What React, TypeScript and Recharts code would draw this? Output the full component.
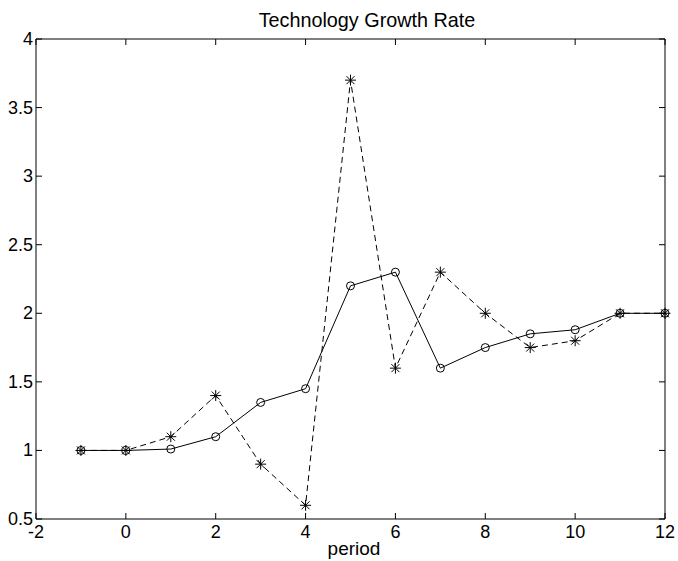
import { LineChart, Line, XAxis, YAxis } from "recharts";

const periods = [-1, 0, 1, 2, 3, 4, 5, 6, 7, 8, 9, 10, 11, 12];
const solidRate = [1, 1, 1.01, 1.1, 1.35, 1.45, 2.2, 2.3, 1.6, 1.75, 1.85, 1.88, 2, 2];
const dashedRate = [1, 1, 1.1, 1.4, 0.9, 0.6, 3.7, 1.6, 2.3, 2.0, 1.75, 1.8, 2, 2];
const xTicks = [-2, 0, 2, 4, 6, 8, 10, 12];
const yTicks = [0.5, 1, 1.5, 2, 2.5, 3, 3.5, 4];

const data = periods.map((p, i) => ({ period: p, solid: solidRate[i], dashed: dashedRate[i] }));

const FONT = '"Liberation Sans", Arial, Helvetica, sans-serif';
const TICK = 6;

function BottomTick({ x, y, payload }: any) {
  return (
    <g>
      <line x1={x} y1={y} x2={x} y2={y - TICK} stroke="#000" strokeWidth={1} />
      <text x={x} y={y + 19} textAnchor="middle" fontSize={18} fontFamily={FONT} fill="#000">
        {payload.value}
      </text>
    </g>
  );
}

function TopTick({ x, y }: any) {
  return <line x1={x} y1={y} x2={x} y2={y + TICK} stroke="#000" strokeWidth={1} />;
}

function LeftTick({ x, y, payload }: any) {
  return (
    <g>
      <line x1={x} y1={y} x2={x + TICK} y2={y} stroke="#000" strokeWidth={1} />
      <text x={x - 3} y={y + 6} textAnchor="end" fontSize={18} fontFamily={FONT} fill="#000">
        {payload.value}
      </text>
    </g>
  );
}

function RightTick({ x, y }: any) {
  return <line x1={x} y1={y} x2={x - TICK} y2={y} stroke="#000" strokeWidth={1} />;
}

function Star({ cx, cy, index }: any) {
  const r = 5.5;
  const d = 4;
  return (
    <g key={`star-${index}`} stroke="#000" strokeWidth={1}>
      <line x1={cx - r} y1={cy} x2={cx + r} y2={cy} />
      <line x1={cx} y1={cy - r} x2={cx} y2={cy + r} />
      <line x1={cx - d} y1={cy - d} x2={cx + d} y2={cy + d} />
      <line x1={cx - d} y1={cy + d} x2={cx + d} y2={cy - d} />
    </g>
  );
}

export default function App() {
  return (
    <div style={{ position: "absolute", left: 0, top: 0, width: 678, height: 561, background: "#fff" }}>
      <LineChart width={678} height={561} data={data} margin={{ top: 38, right: 12, bottom: 0, left: 0 }}>
        <XAxis
          xAxisId="b"
          dataKey="period"
          type="number"
          domain={[-2, 12]}
          ticks={xTicks}
          interval={0}
          height={42}
          tickSize={0}
          tickMargin={0}
          tickLine={false}
          axisLine={{ stroke: "#000" }}
          tick={<BottomTick />}
        />
        <XAxis
          xAxisId="t"
          orientation="top"
          dataKey="period"
          type="number"
          domain={[-2, 12]}
          ticks={xTicks}
          interval={0}
          height={1}
          tickSize={0}
          tickMargin={0}
          tickLine={false}
          axisLine={{ stroke: "#000" }}
          tick={<TopTick />}
        />
        <YAxis
          yAxisId="l"
          type="number"
          domain={[0.5, 4]}
          ticks={yTicks}
          interval={0}
          width={36}
          tickSize={0}
          tickMargin={0}
          tickLine={false}
          axisLine={{ stroke: "#000" }}
          tick={<LeftTick />}
        />
        <YAxis
          yAxisId="r"
          orientation="right"
          type="number"
          domain={[0.5, 4]}
          ticks={yTicks}
          interval={0}
          width={1}
          tickSize={0}
          tickMargin={0}
          tickLine={false}
          axisLine={{ stroke: "#000" }}
          tick={<RightTick />}
        />
        {/* invisible series so the top and right frame axes get drawn */}
        <Line
          xAxisId="t"
          yAxisId="r"
          type="linear"
          dataKey="solid"
          stroke="none"
          dot={false}
          activeDot={false}
          isAnimationActive={false}
        />
        <Line
          xAxisId="b"
          yAxisId="l"
          type="linear"
          dataKey="dashed"
          stroke="#000"
          strokeWidth={1}
          strokeDasharray="6 4"
          dot={(p: any) => <Star {...p} />}
          isAnimationActive={false}
        />
        <Line
          xAxisId="b"
          yAxisId="l"
          type="linear"
          dataKey="solid"
          stroke="#000"
          strokeWidth={1}
          dot={{ r: 4, stroke: "#000", strokeWidth: 1, fill: "none" }}
          isAnimationActive={false}
        />
      </LineChart>
      <svg width={678} height={561} style={{ position: "absolute", left: 0, top: 0, pointerEvents: "none" }}>
        <text x={367} y={27} textAnchor="middle" fontSize={19.8} fontFamily={FONT} fill="#000">
          Technology Growth Rate
        </text>
        <text x={354} y={555} textAnchor="middle" fontSize={19} fontFamily={FONT} fill="#000">
          period
        </text>
      </svg>
    </div>
  );
}
